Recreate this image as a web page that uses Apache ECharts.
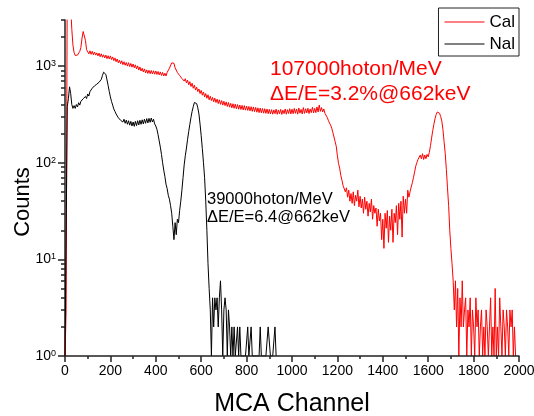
<!DOCTYPE html>
<html>
<head>
<meta charset="utf-8">
<script src="https://cdn.jsdelivr.net/npm/echarts@6/dist/echarts.min.js"></script>
<style>html,body{margin:0;padding:0;background:#fff;}#c{width:534px;height:416px;}</style>
</head>
<body>
<div id="c"></div>
<script>
// MCA channel step between successive counts (channel = index * step)
const channelStep = 5;

// CaI spectrum counts, channels 0..1985
const calCounts = [
1,3,9000,9000,7000,4200,2400,1650,1380,1290,1330,1300,1360,1420,1560,1950,2280,2250,1850,1480,
1450,1340,1440,1325,1420,1310,1400,1300,1370,1275,1360,1250,1340,1235,1310,1215,1300,1195,1280,1185,
1275,1170,1245,1140,1215,1110,1185,1080,1150,1060,1135,1035,1110,1020,1090,1000,1085,990,1065,975,
1050,960,1030,935,1005,910,980,890,950,870,935,850,915,840,905,835,900,830,895,825,
890,820,880,810,870,800,860,790,845,790,860,845,950,960,1080,1030,1070,960,960,860,
880,800,830,745,780,700,740,670,715,640,690,615,665,590,635,565,605,545,580,520,
560,500,540,480,520,465,505,448,488,440,475,428,466,420,455,410,448,402,440,395,
432,390,426,382,420,376,412,370,408,366,404,362,400,358,396,356,392,352,390,350,
386,348,382,344,380,340,378,338,374,334,370,330,368,328,364,326,362,324,360,322,
356,320,354,318,352,322,358,317,352,321,356,316,350,322,360,318,354,323,362,320,
358,322,365,325,360,318,368,326,356,320,372,324,362,328,366,323,360,330,375,328,
365,330,378,335,396,340,372,335,360,325,315,295,275,258,245,228,205,185,165,148,
118,98,88,74,66,58,60,50,55,44,52,40,48,38,50,36,46,40,52,35,
45,34,42,30,44,33,40,28,38,31,42,26,36,30,34,22,33,25,30,16,
26,13,30,21,32,15,28,20,33,15,30,24,36,18,38,26,40,17,45,30,
42,30,52,44,50,56,62,70,80,92,100,108,112,120,110,124,108,120,110,122,
115,128,150,180,215,250,285,315,335,340,325,300,270,220,165,125,85,55,36,20,
13,9,6,3,6,2,5,1,4,2,6,2,3,4,1,3,2,4,1,3,
2,1,4,2,3,1,2,3,1,2,1,3,2,1,2,4,1,2,1,5,
1,2,1,4,2,1,3,2,1,3,2,1,3,2,3,1,2,1
];

// NaI spectrum counts, channels 0..930
const naiCounts = [
1,1,380,460,610,520,400,365,390,365,400,378,418,395,432,420,460,440,485,462,
515,490,545,530,590,570,625,600,650,625,680,675,730,800,865,880,820,720,630,545,
480,430,395,360,340,320,310,292,295,275,288,264,282,256,276,250,272,245,268,240,
264,238,268,242,272,246,275,250,278,252,282,256,286,258,288,262,290,264,282,252,
240,222,195,168,145,122,100,84,72,60,54,46,42,36,30,22,16,24,18,26,
24,32,40,52,70,95,118,142,175,210,250,295,340,380,420,432,410,370,320,250,
190,140,100,70,40,20,9,5,3,1,4,2,4,3,4,2,4,6,3,1,
3,4,3,1,3,2,1,2,1,2,1,1,2,1,2,1,1,1,1,1,
1,2,1,1,2,1,1,1,1,1,1,1,2,1,1,1,1,1,1,2,
2,1,1,1,1,2,1
];

const seriesNames = ['Cal', 'Nal'];
const xTicks = {min: 0, max: 2000, interval: 200};
const yMajor = [1, 10, 100, 1000];
const yMinor = [2,3,4,5,6,7,8,9,20,30,40,50,60,70,80,90,200,300,400,500,600,700,800,900,2000,3000];
const noteCal = '107000hoton/MeV\nΔE/E=3.2%@662keV';
const noteNai = '39000hoton/MeV\nΔE/E=6.4@662keV';

const toPairs = arr => arr.map((v, i) => [i * channelStep, v]);

const FONT = 'Liberation Sans, Arial, Helvetica, sans-serif';
const AX = '#222';

const chart = echarts.init(document.getElementById('c'), null, {renderer: 'canvas'});
chart.setOption({
  animation: false,
  backgroundColor: '#fff',
  grid: {left: 65, right: 15, top: 20, bottom: 60, containLabel: false, outerBoundsMode: 'none'},
  legend: {
    orient: 'vertical', right: 15, top: 8,
    padding: [5, 4, 3, 6], itemGap: 4, itemWidth: 40, itemHeight: 2,
    icon: 'rect',
    borderColor: '#222', borderWidth: 1, backgroundColor: '#fff',
    textStyle: {fontFamily: FONT, fontSize: 17, color: '#000', lineHeight: 18},
    data: [
      {name: seriesNames[0], itemStyle: {color: '#ff8080'}},
      {name: seriesNames[1], itemStyle: {color: '#808080'}}
    ]
  },
  xAxis: {
    type: 'value', min: xTicks.min, max: xTicks.max, interval: xTicks.interval,
    z: 5,
    name: 'MCA Channel', nameLocation: 'middle', nameGap: 36, nameMoveOverlap: false,
    nameTextStyle: {fontFamily: FONT, fontSize: 25, color: '#000'},
    axisLine: {lineStyle: {color: AX, width: 1.5}},
    axisTick: {length: 6, lineStyle: {color: AX, width: 1.5}},
    minorTick: {show: true, splitNumber: 2, length: 3, lineStyle: {color: AX, width: 1.5}},
    splitLine: {show: false},
    axisLabel: {fontFamily: FONT, fontSize: 14, color: '#000', margin: 8, formatter: v => String(v)}
  },
  yAxis: [{
    type: 'log', logBase: 10, min: 1, max: 3000,
    name: 'Counts', nameLocation: 'middle', nameGap: 31, nameRotate: 90, nameMoveOverlap: false,
    nameTextStyle: {fontFamily: FONT, fontSize: 22, color: '#000', padding: [0, 28, 0, 0]},
    axisLine: {show: true, lineStyle: {color: AX, width: 1.5}},
    axisTick: {show: true, length: 7, customValues: yMajor, lineStyle: {color: AX, width: 1.5}},
    splitLine: {show: false},
    axisLabel: {
      customValues: yMajor, margin: 9,
      formatter: v => '{b|10}{s|' + Math.round(Math.log10(v)) + '}',
      rich: {
        b: {fontFamily: FONT, fontSize: 14, color: '#000', lineHeight: 14},
        s: {fontFamily: FONT, fontSize: 9, color: '#000', lineHeight: 9, verticalAlign: 'top'}
      }
    }
  }, {
    type: 'log', logBase: 10, min: 1, max: 3000, position: 'left',
    axisLine: {show: false},
    axisTick: {show: true, length: 4, customValues: yMinor, lineStyle: {color: AX, width: 1.5}},
    axisLabel: {show: false},
    splitLine: {show: false}
  }],
  graphic: [
    {type: 'text', left: 270, top: 57, z: 10,
     style: {text: noteCal, fill: '#ff0000', font: '21px ' + FONT, lineHeight: 24.5}},
    {type: 'text', left: 207, top: 190, z: 10,
     style: {text: noteNai, fill: '#000', font: '16.5px ' + FONT, lineHeight: 18}}
  ],
  series: [
    {name: seriesNames[0], type: 'line', symbol: 'none', data: toPairs(calCounts),
     lineStyle: {color: '#ff0000', width: 1}, itemStyle: {color: '#ff0000'}, z: 2},
    {name: seriesNames[1], type: 'line', symbol: 'none', data: toPairs(naiCounts),
     lineStyle: {color: '#000000', width: 1}, itemStyle: {color: '#000000'}, z: 3}
  ]
});
</script>
</body>
</html>
